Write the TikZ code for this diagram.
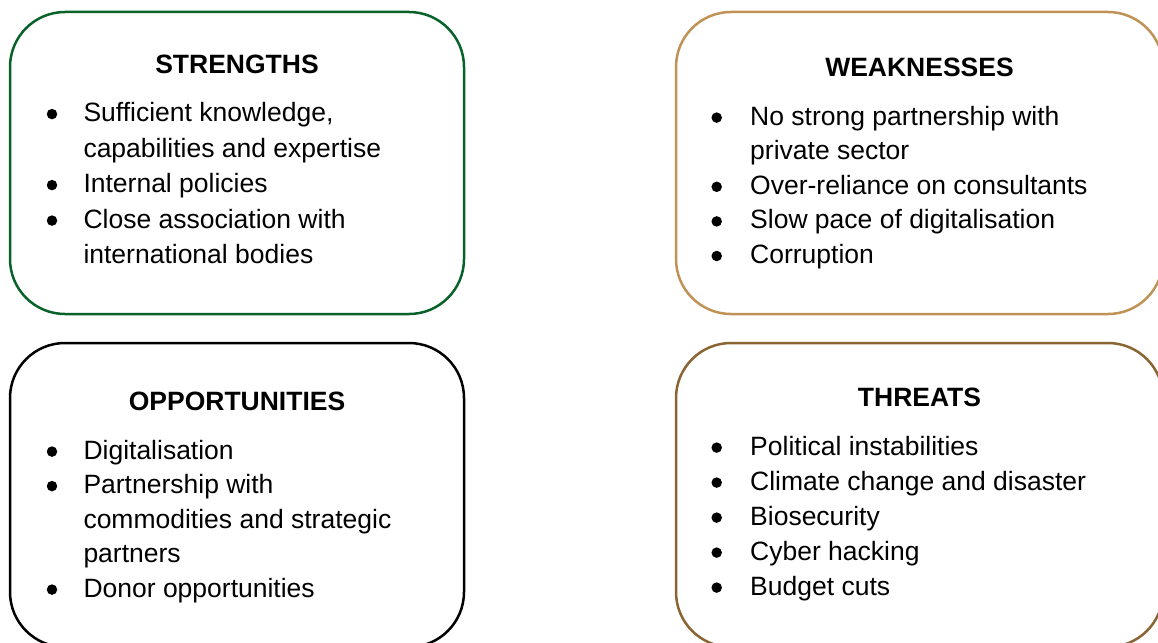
\documentclass[tikz,border=0pt]{standalone}
\usepackage{fontspec}
\setmainfont{Liberation Sans}
\definecolor{swotgreen}{RGB}{8,98,42}
\definecolor{swottan}{RGB}{192,146,86}
\definecolor{swotbrown}{RGB}{139,100,52}
\tikzset{
  panel/.style={draw=#1, line width=2.5pt, rounded corners=55pt},
  heading/.style={anchor=base, inner sep=0pt, font=\fontsize{26.5}{35}\selectfont\bfseries},
  itemtext/.style={anchor=base west, inner sep=0pt, font=\fontsize{26.5}{35}\selectfont},
  dot/.style={circle, fill=black, inner sep=0pt, minimum size=10.5pt},
}
% bullet + first line of an item: name, bullet x, text x, baseline y, text
\newcommand{\swotitem}[5]{%
  \node[dot] (#1d) at (#2,#4-7.4) {};
  \node[itemtext] (#1) at (#3,#4) {#5};}
% continuation line of an item
\newcommand{\swotline}[4]{%
  \node[itemtext] (#1) at (#2,#3) {#4};}
\begin{document}
\begin{tikzpicture}[x=1pt,y=-1pt]
  \useasboundingbox (0,0) rectangle (1158,642);
  \clip (0,0) rectangle (1158,642);

  % panels
  \draw[panel=swotgreen] (10,12) rectangle (464,314);
  \draw[panel=swottan]   (676,12) rectangle (1163,314);
  \draw[panel=black]     (10,343) rectangle (464,647);
  \draw[panel=swotbrown] (676,343) rectangle (1163,647);

  % strengths
  \node[heading] (sT) at (237,74) {STRENGTHS};
  \swotitem{s1}{52}{83.3}{121.5}{Sufficient knowledge,}
  \swotline{s1b}{83.3}{157}{capabilities and expertise}
  \swotitem{s2}{52}{83.3}{192.5}{Internal policies}
  \swotitem{s3}{52}{83.3}{228}{Close association with}
  \swotline{s3b}{83.3}{263.5}{international bodies}

  % weaknesses
  \node[heading] (wT) at (919.5,76.5) {WEAKNESSES};
  \swotitem{w1}{716.7}{750}{125}{No strong partnership with}
  \swotline{w1b}{750}{159.6}{private sector}
  \swotitem{w2}{716.7}{750}{194.2}{Over-reliance on consultants}
  \swotitem{w3}{716.7}{750}{228.8}{Slow pace of digitalisation}
  \swotitem{w4}{716.7}{750}{263.4}{Corruption}

  % opportunities
  \node[heading] (oT) at (237,410) {OPPORTUNITIES};
  \swotitem{o1}{52}{83.3}{459}{Digitalisation}
  \swotitem{o2}{52}{83.3}{493.5}{Partnership with}
  \swotline{o2b}{83.3}{528}{commodities and strategic}
  \swotline{o2c}{83.3}{562.5}{partners}
  \swotitem{o3}{52}{83.3}{597}{Donor opportunities}

  % threats
  \node[heading] (tT) at (919.5,406.5) {THREATS};
  \swotitem{t1}{716.7}{750}{455}{Political instabilities}
  \swotitem{t2}{716.7}{750}{490}{Climate change and disaster}
  \swotitem{t3}{716.7}{750}{525}{Biosecurity}
  \swotitem{t4}{716.7}{750}{560}{Cyber hacking}
  \swotitem{t5}{716.7}{750}{595}{Budget cuts}
\end{tikzpicture}
\end{document}
